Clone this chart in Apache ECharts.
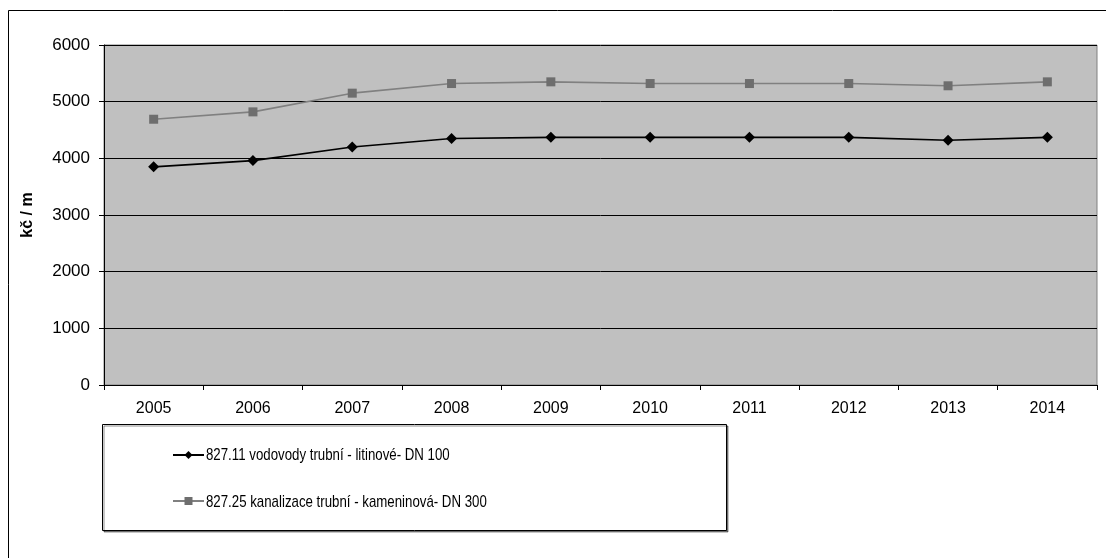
<!DOCTYPE html>
<html>
<head>
<meta charset="utf-8">
<script src="https://cdn.jsdelivr.net/npm/echarts@6/dist/echarts.min.js"></script>
<style>
  html, body { margin: 0; padding: 0; background: #fff; }
  #chart { width: 1106px; height: 558px; }
</style>
</head>
<body>
<div id="chart"></div>
<script>
// Years on the horizontal axis
const years = ['2005', '2006', '2007', '2008', '2009', '2010', '2011', '2012', '2013', '2014'];

// Price per metre (Kč / m)
const vodovodyLitinove = [3850, 3960, 4200, 4350, 4370, 4370, 4370, 4370, 4320, 4370];
const kanalizaceKameninova = [4690, 4820, 5150, 5320, 5350, 5320, 5320, 5320, 5280, 5350];

const seriesNames = [
  '827.11 vodovody trubní - litinové- DN 100',
  '827.25 kanalizace trubní - kameninová- DN 300'
];

const yTicks = { min: 0, max: 6000, interval: 1000 };

const chart = echarts.init(document.getElementById('chart'), null, { renderer: 'canvas' });

// legend captions are set in a horizontally condensed face
const captionY = [455, 502];
const captions = seriesNames.map((name, i) => ({
  type: 'text',
  x: 206,
  y: captionY[i],
  scaleX: 0.78,
  style: {
    text: name,
    fontSize: 17,
    fontFamily: 'Liberation Sans, Arial, sans-serif',
    fill: '#000',
    verticalAlign: 'middle',
    align: 'left'
  },
  silent: true,
  z: 6
}));

chart.setOption({
  animation: false,
  backgroundColor: '#ffffff',
  textStyle: { fontFamily: 'Liberation Sans, Arial, sans-serif' },
  grid: {
    left: 104,
    right: 9,
    top: 45,
    bottom: 173,
    show: true,
    backgroundColor: '#c0c0c0',
    borderColor: '#808080',
    borderWidth: 1
  },
  graphic: [
    // outer chart frame
    {
      type: 'rect',
      shape: { x: 8.5, y: 10.5, width: 1200, height: 700 },
      style: { fill: 'none', stroke: '#000', lineWidth: 1 },
      silent: true,
      z: -1
    },
    // legend box
    {
      type: 'rect',
      shape: { x: 102.5, y: 424.5, width: 624, height: 106 },
      style: {
        fill: '#fff', stroke: '#000', lineWidth: 1,
        shadowColor: 'rgba(0,0,0,0.45)', shadowOffsetX: 1.5, shadowOffsetY: 1.5
      },
      silent: true,
      z: 0
    }
  ].concat(captions),
  legend: {
    orient: 'vertical',
    left: 167,
    top: 445,
    itemWidth: 31,
    itemHeight: 10,
    itemGap: 37,
    data: seriesNames,
    formatter: () => '',
    textStyle: { fontSize: 10, padding: 0 },
    z: 5
  },
  xAxis: {
    type: 'category',
    data: years,
    boundaryGap: true,
    axisLine: { show: true, lineStyle: { color: '#000', width: 1 } },
    axisTick: { show: true, alignWithLabel: false, length: 5, inside: false, lineStyle: { color: '#000' } },
    axisLabel: { color: '#000', fontSize: 16, margin: 16 },
    splitLine: { show: false }
  },
  yAxis: {
    type: 'value',
    min: yTicks.min,
    max: yTicks.max,
    interval: yTicks.interval,
    name: 'kč / m',
    nameLocation: 'middle',
    nameGap: 68,
    nameRotate: 90,
    nameTextStyle: { color: '#000', fontSize: 16, fontWeight: 'bold' },
    axisLine: { show: true, lineStyle: { color: '#000', width: 1 } },
    axisTick: { show: true, length: 5, lineStyle: { color: '#000' } },
    axisLabel: { color: '#000', fontSize: 17, margin: 14, formatter: (v) => String(v) },
    splitLine: { show: true, lineStyle: { color: '#000', width: 1 } }
  },
  series: [
    {
      name: seriesNames[0],
      type: 'line',
      data: vodovodyLitinove,
      symbol: 'diamond',
      symbolSize: 11,
      showSymbol: true,
      lineStyle: { color: '#000', width: 1.6 },
      itemStyle: { color: '#000' },
      z: 3
    },
    {
      name: seriesNames[1],
      type: 'line',
      data: kanalizaceKameninova,
      symbol: 'rect',
      symbolSize: 9,
      showSymbol: true,
      lineStyle: { color: '#808080', width: 1.6 },
      itemStyle: { color: '#6e6e6e' },
      z: 3
    }
  ]
});
</script>
</body>
</html>
